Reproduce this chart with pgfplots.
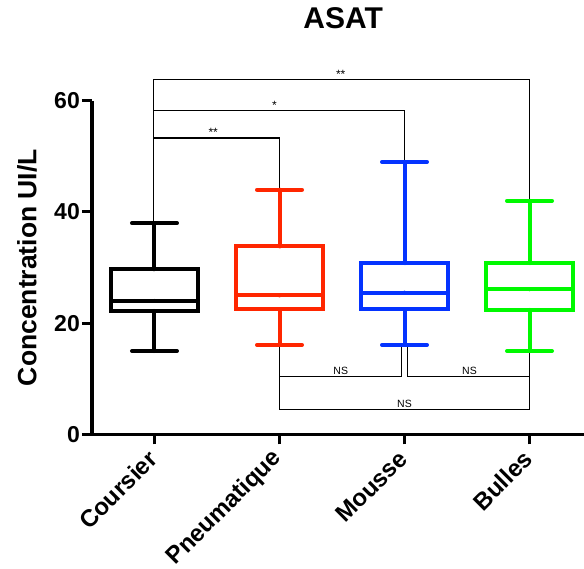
\documentclass[border=0pt]{standalone}
\usepackage{fontspec}
\setmainfont{Liberation Sans}
\usepackage{pgfplots}
\pgfplotsset{compat=1.18}
\usepgfplotslibrary{statistics}
\definecolor{pred}{HTML}{FF2600}
\definecolor{pblue}{HTML}{0433FF}
\definecolor{pgreen}{HTML}{00F900}
\begin{document}
\begin{tikzpicture}
\begin{axis}[
  at={(0pt,0pt)}, anchor=south west,
  width=492.5pt, height=333.8pt, scale only axis,
  xmin=-0.5, xmax=3.44, ymin=0, ymax=60,
  axis x line*=bottom, axis y line*=left,
  axis line style={line width=3.5pt},
  xtick={0,1,2,3},
  xticklabels={Coursier,Pneumatique,Mousse,Bulles},
  ytick={0,20,40,60},
  tick style={line width=3pt, black},
  major tick length=10pt, tick align=outside,
  /pgf/number format/assume math mode=true,
  yticklabel style={font=\fontsize{23}{23}\selectfont\bfseries, inner sep=2pt},
  xticklabel style={font=\fontsize{24}{24}\selectfont\bfseries, rotate=45, anchor=east, inner sep=2pt},
  xticklabel shift=9pt,
  clip=false,
  title={ASAT},
  title style={font=\fontsize{30}{30}\selectfont\bfseries, at={(axis description cs:0.51,1.228)}, anchor=center},
  ylabel={Concentration UI/L},
  ylabel style={font=\fontsize{26.5}{26.5}\selectfont\bfseries, at={(axis description cs:-0.132,0.5)}, anchor=center},
  boxplot/draw direction=y,
  boxplot/box extend=0.69,
  boxplot/whisker extend=0.36,
]
% brackets
\draw[line width=1.3pt] (axis cs:-0.01,38) -- (axis cs:-0.01,63.8) -- (axis cs:3,63.8) -- (axis cs:3,42);
\draw[line width=1.3pt] (axis cs:-0.01,58.2) -- (axis cs:2,58.2) -- (axis cs:2,49);
\draw[line width=1.3pt] (axis cs:-0.01,53.3) -- (axis cs:1,53.3) -- (axis cs:1,44);
\draw[line width=1.3pt] (axis cs:1,16) -- (axis cs:1,4.5) -- (axis cs:3,4.5) -- (axis cs:3,15);
\draw[line width=1.3pt] (axis cs:1,10.4) -- (axis cs:1.976,10.4) -- (axis cs:1.976,16);
\draw[line width=1.3pt] (axis cs:2.024,16) -- (axis cs:2.024,10.4) -- (axis cs:3,10.4) -- (axis cs:3,15);
\node[anchor=south, inner sep=1pt, font=\fontsize{12}{12}\selectfont] at (axis cs:1.49,63.8) {**};
\node[anchor=south, inner sep=1pt, font=\fontsize{12}{12}\selectfont] at (axis cs:0.96,58.2) {*};
\node[anchor=south, inner sep=1pt, font=\fontsize{12}{12}\selectfont] at (axis cs:0.47,53.3) {**};
\node[anchor=south, inner sep=2pt, font=\fontsize{10.5}{10.5}\selectfont] at (axis cs:1.49,10.4) {NS};
\node[anchor=south, inner sep=2pt, font=\fontsize{10.5}{10.5}\selectfont] at (axis cs:2.52,10.4) {NS};
\node[anchor=south, inner sep=2pt, font=\fontsize{10.5}{10.5}\selectfont] at (axis cs:2.0,4.5) {NS};
% boxplots
\addplot[solid, draw=black, line width=4pt, line cap=round, boxplot prepared={draw position=0, lower whisker=15, lower quartile=22.2, median=24, upper quartile=29.7, upper whisker=38}, mark options={draw=none, fill=none}, mark size=0pt] coordinates {(0,24)};
\addplot[solid, draw=pred, line width=4pt, line cap=round, boxplot prepared={draw position=1, lower whisker=16.1, lower quartile=22.5, median=25, upper quartile=33.8, upper whisker=44}, mark options={draw=none, fill=none}, mark size=0pt] coordinates {(1,25)};
\addplot[solid, draw=pblue, line width=4pt, line cap=round, boxplot prepared={draw position=2, lower whisker=16.1, lower quartile=22.5, median=25.5, upper quartile=30.8, upper whisker=49}, mark options={draw=none, fill=none}, mark size=0pt] coordinates {(2,25.5)};
\addplot[solid, draw=pgreen, line width=4pt, line cap=round, boxplot prepared={draw position=3, lower whisker=15, lower quartile=22.4, median=26.1, upper quartile=30.8, upper whisker=42}, mark options={draw=none, fill=none}, mark size=0pt] coordinates {(3,26.1)};
\end{axis}
\pgfresetboundingbox
\useasboundingbox (-92pt,-134.5pt) rectangle (492pt,434.5pt);
\end{tikzpicture}
\end{document}
